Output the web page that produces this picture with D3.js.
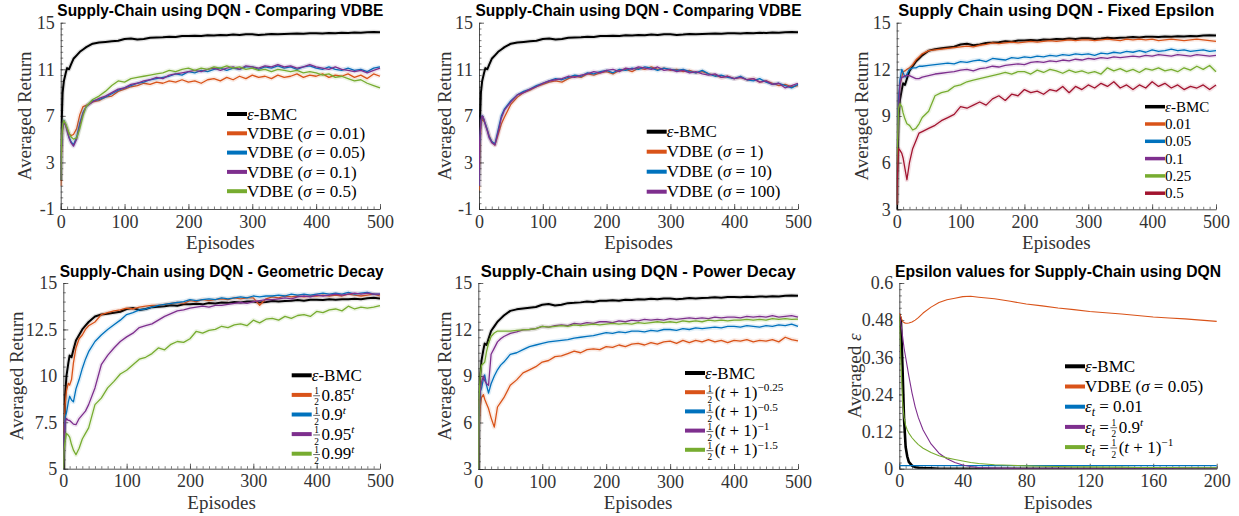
<!DOCTYPE html>
<html>
<head>
<meta charset="utf-8">
<script src="https://cdn.jsdelivr.net/npm/d3@7"></script>
<style>
  body { margin: 0; background: #fff; }
  svg text { font-family: "Liberation Serif", "Times New Roman", serif; }
  .title { font-family: "Liberation Sans", Arial, sans-serif; font-weight: bold; font-size: 16.5px; fill: #000; }
</style>
</head>
<body>
<svg id="chart" width="1239" height="516"></svg>
<script>
// ---- data -------------------------------------------------------------
const episodes = [0,1,3,5,8,10,13,16,20,25,30,35,40,50,60,70, ...d3.range(80, 501, 10)]
const epsilonEpisodes = [0,1,2,3,4,5,6,8,10,12,15,20,25,30,35,40,45,50,60,70,80,90,100,110,120,130,140,150,160,170,180,190,200]

const returnTicksA = [-1,3,7,11,15]
const returnTicksB = [3,6,9,12,15]
const returnTicksC = [5,7.5,10,12.5,15]
const episodeTicks = [0,100,200,300,400,500]
const epsilonTicks = [0,0.12,0.24,0.36,0.48,0.6]
const epsilonEpisodeTicks = [0,40,80,120,160,200]

// e-BMC (same run shown in every return panel)
const bmcReturn = [1.4,5.5,9.0,10.0,10.7,11.1,11.0,11.4,11.9,12.2,12.5,12.7,12.9,13.2,13.3,13.35,
  13.4,13.45,13.6,13.65,13.55,13.6,13.7,13.72,13.75,13.8,13.78,13.85,13.85,13.88,13.85,13.92,13.9,13.95,13.93,13.98,13.95,14.0,14.0,13.95,13.98,14.03,14.0,14.03,14.05,14.08,14.05,14.1,14.1,14.08,14.12,14.1,14.13,14.12,14.15,14.13,14.18,14.2,14.17]

// panel 1 : VDBE sigma 0.01 / 0.05 / 0.1 / 0.5
const vdbeS001 = [1.0,3.5,5.8,6.5,6.2,5.9,5.5,5.3,5.4,5.9,7.1,7.8,7.9,8.2,8.3,8.6,
  8.7,9.1,9.3,9.5,9.6,9.8,9.7,9.9,9.8,10.0,9.9,10.1,9.9,10.0,9.8,10.1,10.2,10.0,10.3,10.1,10.4,10.2,10.5,10.3,10.4,10.2,10.5,10.3,10.4,10.6,10.3,10.5,10.4,10.6,10.3,10.5,10.4,10.6,10.3,10.5,10.2,10.6,10.4]
const vdbeS005 = [1.5,4.0,6.0,6.6,6.2,5.8,5.2,4.8,4.5,5.2,6.4,7.3,7.8,8.3,8.4,8.6,
  8.9,9.2,9.4,9.6,9.8,9.9,10.1,10.2,10.3,10.4,10.6,10.5,10.8,10.7,10.9,10.8,11.0,11.1,10.9,11.1,11.0,11.2,11.2,11.0,11.2,11.1,11.3,11.1,11.2,11.0,11.2,11.3,11.1,11.0,11.2,11.0,10.9,11.1,10.9,11.0,10.8,11.1,11.2]
const vdbeS01 = [1.5,4.2,6.1,6.5,6.1,5.7,5.1,4.7,4.4,5.0,6.2,7.2,7.8,8.2,8.5,8.7,
  9.0,9.3,9.4,9.7,9.8,10.0,10.1,10.3,10.2,10.5,10.6,10.7,10.8,10.9,10.8,11.0,11.1,10.9,11.1,11.2,11.0,11.3,11.2,11.1,11.3,11.2,11.4,11.2,11.3,11.1,11.2,11.4,11.2,11.1,11.0,11.2,11.0,10.9,10.8,10.9,10.7,10.9,11.1]
const vdbeS05 = [1.5,4.5,6.2,6.6,6.3,6.0,5.5,5.2,5.0,5.1,5.9,7.0,7.8,8.4,8.7,9.1,
  9.6,10.0,9.9,10.2,10.3,10.4,10.5,10.6,10.7,10.9,10.8,11.0,11.1,10.9,11.1,11.0,11.2,11.1,11.3,11.1,11.2,11.0,11.1,10.9,11.0,10.8,11.0,10.9,10.8,10.9,10.7,10.8,10.7,10.5,10.6,10.3,10.4,10.2,10.0,10.1,9.8,9.6,9.4]

// panel 2 : VDBE sigma 1 / 10 / 100
const vdbeS1 = [0.6,3.5,6.0,6.8,6.5,6.3,5.8,5.3,4.8,4.5,5.4,6.3,6.9,8.0,8.6,9.0,
  9.2,9.5,9.7,9.9,10.0,9.9,10.2,10.4,10.3,10.6,10.5,10.7,10.8,10.6,10.9,11.0,10.8,11.1,11.0,11.2,11.0,11.1,10.9,11.0,10.8,10.9,10.7,10.8,10.6,10.5,10.3,10.4,10.2,10.3,10.1,10.2,9.9,10.0,9.8,9.6,9.7,9.5,9.6]
const vdbeS10 = [1.0,4.5,6.5,7.0,6.6,6.3,5.8,5.2,4.8,4.6,5.8,7.0,7.6,8.3,8.8,9.1,
  9.3,9.6,9.8,10.0,10.2,10.1,10.3,10.5,10.4,10.7,10.6,10.8,10.9,10.7,11.0,10.9,11.1,11.0,11.2,11.1,10.9,11.1,11.0,10.9,11.0,10.8,10.7,10.9,10.6,10.4,10.5,10.3,10.2,10.4,10.1,10.0,10.2,9.9,9.7,9.8,9.6,9.4,9.7]
const vdbeS100 = [1.0,4.8,6.6,7.0,6.7,6.2,5.7,5.1,4.7,4.5,5.6,6.8,7.5,8.2,8.8,9.0,
  9.3,9.5,9.8,10.0,10.1,10.2,10.4,10.3,10.5,10.6,10.8,10.7,10.9,11.0,10.8,11.1,11.0,11.2,11.1,11.0,11.2,10.9,11.0,10.8,10.9,10.7,10.8,10.6,10.5,10.6,10.3,10.4,10.2,10.3,10.1,10.2,9.9,10.0,9.7,9.8,9.4,9.6,9.8]

// panel 3 : fixed epsilon 0.01 / 0.05 / 0.1 / 0.25 / 0.5
const fixedE001 = [3.5,7.0,10.0,11.0,11.5,11.85,11.9,12.0,12.1,12.3,12.6,12.8,13.0,13.2,13.25,13.3,
  13.35,13.4,13.45,13.5,13.45,13.55,13.6,13.7,13.65,13.7,13.75,13.7,13.75,13.8,13.75,13.8,13.85,13.8,13.85,13.9,13.85,13.9,13.9,13.85,13.9,13.95,13.9,13.85,13.95,13.9,13.95,13.9,13.95,13.85,13.9,13.95,13.9,13.85,13.9,13.95,13.9,13.85,13.8]
const fixedE005 = [3.5,7.5,10.2,11.3,12.0,11.8,11.5,11.7,12.0,12.1,12.1,12.2,12.2,12.25,12.3,12.35,
  12.4,12.35,12.5,12.45,12.55,12.6,12.5,12.7,12.65,12.6,12.75,12.7,12.8,12.75,12.85,12.8,12.9,12.85,12.95,12.9,13.0,12.95,13.0,12.9,13.05,13.0,13.1,13.05,13.15,13.1,13.2,13.1,13.25,13.15,13.2,13.3,13.2,13.25,13.15,13.2,13.25,13.15,13.2]
const fixedE01 = [3.3,7.0,9.5,11.0,11.5,11.5,11.6,11.6,11.6,11.5,11.4,11.4,11.5,11.6,11.7,11.75,
  11.8,11.85,11.95,12.0,11.9,12.05,12.1,12.2,12.15,12.25,12.3,12.35,12.3,12.45,12.5,12.45,12.55,12.5,12.6,12.55,12.65,12.6,12.7,12.65,12.75,12.7,12.8,12.75,12.8,12.85,12.8,12.9,12.85,12.95,12.9,12.85,12.95,12.9,12.85,12.95,12.9,12.85,12.9]
const fixedE025 = [3.3,7.0,9.5,9.8,9.6,9.2,8.8,8.5,8.4,8.1,8.2,8.5,8.9,9.3,10.3,10.5,
  10.6,10.9,11.0,11.2,11.3,11.4,11.5,11.6,11.7,11.8,11.7,11.85,11.85,11.7,11.95,11.8,12.0,11.9,11.75,11.95,11.8,11.9,11.75,11.85,11.7,12.1,11.9,12.05,11.85,12.0,11.8,12.05,11.95,12.1,11.9,12.0,11.85,12.1,11.95,12.2,12.0,12.25,11.85]
const fixedE05 = [3.3,5.0,6.9,6.8,6.6,6.3,5.6,4.9,6.0,6.9,7.4,7.9,8.0,8.2,8.4,8.7,
  8.9,9.1,9.6,9.5,9.7,9.9,9.7,10.1,10.3,10.0,10.4,10.3,10.7,10.5,10.6,10.4,10.7,10.6,10.9,10.5,10.9,10.7,11.0,10.8,11.1,10.9,11.2,10.8,11.0,10.7,11.0,10.8,11.2,10.9,11.1,10.8,11.0,10.7,10.9,10.8,11.0,10.7,11.0]

// panel 4 : geometric decay 0.85 / 0.9 / 0.95 / 0.99
const geoD085 = [5.0,7.0,8.5,9.2,9.6,9.5,9.8,10.7,11.5,12.0,12.2,12.5,12.7,12.9,13.3,13.4,
  13.5,13.55,13.65,13.6,13.7,13.75,13.8,13.8,13.85,13.9,13.95,13.9,14.05,14.0,14.1,14.05,14.1,14.15,14.1,14.2,14.15,14.2,14.2,13.8,14.15,14.25,14.2,14.3,14.25,14.3,14.25,14.3,14.3,14.35,14.3,14.35,14.3,14.4,14.35,14.3,14.35,14.4,14.3]
const geoD09 = [5.0,6.5,7.8,8.0,8.6,8.9,8.7,8.6,9.3,9.8,10.4,10.9,11.3,11.85,12.2,12.5,
  12.75,13.0,13.3,13.4,13.55,13.6,13.7,13.8,13.85,13.9,13.95,14.0,14.1,14.05,14.1,14.15,14.1,14.2,14.15,14.2,14.25,14.2,14.3,14.25,14.3,14.3,14.35,14.3,14.4,14.35,14.4,14.35,14.4,14.45,14.4,14.45,14.4,14.5,14.4,14.45,14.5,14.4,14.4]
const geoD095 = [5.0,6.5,7.5,7.7,7.6,7.6,7.5,7.4,7.37,7.7,7.9,8.1,8.45,9.35,10.6,11.1,
  11.5,11.85,12.1,12.3,12.6,12.7,12.8,13.0,13.2,13.35,13.5,13.55,13.65,13.7,13.75,13.7,13.8,13.8,13.85,13.9,13.95,13.9,14.0,14.05,14.1,14.1,14.15,14.2,14.15,14.25,14.3,14.25,14.35,14.3,14.35,14.4,14.35,14.4,14.45,14.4,14.45,14.4,14.4]
const geoD099 = [5.0,6.0,6.5,6.9,6.8,6.7,6.3,6.0,5.75,6.1,6.6,6.9,7.2,8.45,8.8,9.35,
  9.7,10.1,10.3,10.6,10.9,11.0,11.2,11.5,11.4,11.7,11.85,11.8,12.0,12.4,12.3,12.45,12.5,12.67,12.6,12.75,12.8,12.7,13.0,12.85,13.05,13.1,13.0,13.2,13.1,13.25,13.3,13.2,13.47,13.4,13.55,13.6,13.5,13.75,13.6,13.7,13.65,13.7,13.78]

// panel 5 : power decay -0.25 / -0.5 / -1 / -1.5
const powD025 = [3.0,5.5,7.0,7.6,7.8,7.5,7.2,6.9,6.3,5.7,7.0,7.3,7.6,8.4,8.75,9.2,
  9.4,9.6,9.9,10.0,10.25,10.3,10.45,10.6,10.5,10.7,10.75,10.7,10.9,10.85,11.0,10.9,11.05,11.1,11.0,11.15,11.05,11.2,11.25,11.1,11.3,11.15,11.3,11.2,11.35,11.2,11.3,11.15,11.3,11.25,11.35,11.2,11.3,11.25,11.35,11.2,11.5,11.35,11.27]
const powD05 = [3.0,6.5,8.0,8.2,8.8,9.07,8.4,7.9,8.5,9.0,9.4,9.7,9.9,10.4,10.5,10.7,
  10.9,11.0,11.1,11.2,11.25,11.3,11.35,11.45,11.5,11.55,11.6,11.7,11.8,11.75,11.85,11.8,11.9,11.9,11.85,11.95,11.9,12.0,12.0,11.95,12.05,12.0,12.1,12.05,12.1,12.15,12.1,12.2,12.2,12.15,12.25,12.2,12.15,12.25,12.2,12.3,12.25,12.35,12.2]
const powD1 = [3.0,7.0,8.0,8.6,9.0,8.7,8.5,8.4,10.4,10.8,11.2,11.4,11.55,11.75,11.85,11.98,
  12.0,12.05,12.2,12.15,12.25,12.3,12.25,12.4,12.35,12.45,12.4,12.5,12.5,12.45,12.55,12.5,12.6,12.55,12.65,12.6,12.65,12.6,12.7,12.65,12.7,12.75,12.7,12.75,12.7,12.8,12.75,12.8,12.8,12.75,12.85,12.8,12.85,12.8,12.9,12.8,12.85,12.9,12.8]
const powD15 = [3.0,7.5,9.0,9.7,9.8,9.9,10.6,11.1,11.55,11.77,11.9,11.9,11.9,11.9,11.95,11.98,
  12.0,12.05,12.2,12.15,12.2,12.25,12.2,12.3,12.25,12.3,12.35,12.3,12.35,12.4,12.35,12.4,12.35,12.45,12.4,12.45,12.5,12.45,12.5,12.45,12.55,12.5,12.55,12.5,12.6,12.55,12.6,12.55,12.6,12.6,12.65,12.6,12.65,12.6,12.7,12.65,12.7,12.65,12.67]

// panel 6 : averaged epsilon
const bmcEpsilon = [0.5,0.48,0.33,0.16,0.07,0.04,0.022,0.01,0.005,0.003,0.002,0.001,0,0,0,0,0,0,0,0,0,0,0,0,0,0,0,0,0,0,0,0,0]
const vdbeEpsilon = [0.503,0.49,0.476,0.472,0.47,0.47,0.471,0.474,0.48,0.488,0.503,0.522,0.537,0.546,0.551,0.556,0.557,0.554,0.549,0.541,0.532,0.526,0.519,0.514,0.508,0.504,0.5,0.495,0.49,0.487,0.484,0.48,0.476]
const fixedEpsilon = [0.01,0.01,0.01,0.01,0.01,0.01,0.01,0.01,0.01,0.01,0.01,0.01,0.01,0.01,0.01,0.01,0.01,0.01,0.01,0.01,0.01,0.01,0.01,0.01,0.01,0.01,0.01,0.01,0.01,0.01,0.01,0.01,0.01]
const geoEpsilon = [0.5,0.47,0.43,0.39,0.36,0.33,0.3,0.245,0.2,0.165,0.125,0.08,0.05,0.032,0.02,0.012,0.007,0.004,0.002,0.001,0,0,0,0,0,0,0,0,0,0,0,0,0]
const powEpsilon = [0.5,0.35,0.22,0.165,0.14,0.125,0.115,0.1,0.088,0.078,0.066,0.052,0.042,0.035,0.03,0.025,0.02,0.017,0.013,0.011,0.009,0.008,0.007,0.006,0.006,0.005,0.005,0.004,0.004,0.004,0.003,0.003,0.003]

// ---- colours ------------------------------------------------------------
const black = "#000000", orange = "#D95319", blue = "#0072BD", purple = "#7E2F8E", green = "#77AC30", crimson = "#A2142F"

// ---- layout -------------------------------------------------------------
const panels = [
  { title: "Supply-Chain using DQN - Comparing VDBE", titleW: 326, left: 60.7, right: 380, top: 22.7, bottom: 209,
    xs: episodes, xDomain: [0, 500], xTicks: episodeTicks, xMinor: 10,
    yDomain: [-1, 15], yTicks: returnTicksA, yMinor: 0.5, yLabel: "Averaged Return", yLabelX: 25,
    series: [[bmcReturn, black], [vdbeS001, orange], [vdbeS005, blue], [vdbeS01, purple], [vdbeS05, green]],
    labels: ["{i:ε}-BMC", "VDBE ({i:σ} = 0.01)", "VDBE ({i:σ} = 0.05)", "VDBE ({i:σ} = 0.1)", "VDBE ({i:σ} = 0.5)"],
    legend: { x: 227, y: 114, dy: 19.3, size: 17 } },
  { title: "Supply-Chain using DQN - Comparing VDBE", titleW: 326, left: 479, right: 798, top: 22.7, bottom: 209,
    xs: episodes, xDomain: [0, 500], xTicks: episodeTicks, xMinor: 10,
    yDomain: [-1, 15], yTicks: returnTicksA, yMinor: 0.5, yLabel: "Averaged Return", yLabelX: 445,
    series: [[bmcReturn, black], [vdbeS1, orange], [vdbeS10, blue], [vdbeS100, purple]],
    labels: ["{i:ε}-BMC", "VDBE ({i:σ} = 1)", "VDBE ({i:σ} = 10)", "VDBE ({i:σ} = 100)"],
    legend: { x: 646.7, y: 131.7, dy: 20, size: 17 } },
  { title: "Supply Chain using DQN - Fixed Epsilon", titleW: 316, left: 896.7, right: 1216, top: 22.7, bottom: 209.3,
    xs: episodes, xDomain: [0, 500], xTicks: episodeTicks, xMinor: 10,
    yDomain: [3, 15], yTicks: returnTicksB, yMinor: 0.5, yLabel: "Averaged Return", yLabelX: 861.7,
    series: [[bmcReturn, black], [fixedE001, orange], [fixedE005, blue], [fixedE01, purple], [fixedE025, green], [fixedE05, crimson]],
    labels: ["{i:ε}-BMC", "0.01", "0.05", "0.1", "0.25", "0.5"],
    legend: { x: 1145, y: 106.7, dy: 17.3, size: 15 } },
  { title: "Supply-Chain using DQN - Geometric Decay", titleW: 324, left: 63.3, right: 380, top: 283, bottom: 468.7,
    xs: episodes, xDomain: [0, 500], xTicks: episodeTicks, xMinor: 10,
    yDomain: [5, 15], yTicks: returnTicksC, yMinor: 0.5, yLabel: "Averaged Return", yLabelX: 16.5,
    series: [[bmcReturn, black], [geoD085, orange], [geoD09, blue], [geoD095, purple], [geoD099, green]],
    labels: ["{i:ε}-BMC", "{frac}0.85{isup:t}", "{frac}0.9{isup:t}", "{frac}0.95{isup:t}", "{frac}0.99{isup:t}"],
    legend: { x: 291.7, y: 375.3, dy: 19.6, size: 17 } },
  { title: "Supply-Chain using DQN - Power Decay", titleW: 315, left: 478.3, right: 798, top: 283, bottom: 469,
    xs: episodes, xDomain: [0, 500], xTicks: episodeTicks, xMinor: 10,
    yDomain: [3, 15], yTicks: returnTicksB, yMinor: 0.5, yLabel: "Averaged Return", yLabelX: 445,
    series: [[bmcReturn, black], [powD025, orange], [powD05, blue], [powD1, purple], [powD15, green]],
    labels: ["{i:ε}-BMC", "{frac}({i:t} + 1){sup:−0.25}", "{frac}({i:t} + 1){sup:−0.5}", "{frac}({i:t} + 1){sup:−1}", "{frac}({i:t} + 1){sup:−1.5}"],
    legend: { x: 685, y: 373, dy: 19.2, size: 17 } },
  { title: "Epsilon values for Supply-Chain using DQN", titleW: 326, left: 899.3, right: 1216.7, top: 283, bottom: 468.7,
    xs: epsilonEpisodes, xDomain: [0, 200], xTicks: epsilonEpisodeTicks, xMinor: 4,
    yDomain: [0, 0.6], yTicks: epsilonTicks, yMinor: 0.02, yLabel: "Averaged {i:ε}", yLabelX: 855,
    series: [[bmcEpsilon, black], [vdbeEpsilon, orange], [fixedEpsilon, blue], [geoEpsilon, purple], [powEpsilon, green]],
    labels: ["{i:ε}-BMC", "VDBE ({i:σ} = 0.05)", "{i:ε}{isub:t} = 0.01", "{i:ε}{isub:t} = {frac}0.9{isup:t}", "{i:ε}{isub:t} = {frac}({i:t} + 1){sup:−1}"],
    legend: { x: 1065, y: 366.3, dy: 20.2, size: 17 }, thin: true }
]

const svg = d3.select("#chart")
const axisColor = "#262626"

// text with small LaTeX-like markup: {i:..} italic, {sup:..}/{isup:..}, {isub:..}, {frac} = 1/2
function richText(parent, str, x, y, size, anchor) {
  const t = parent.append("text").attr("x", x).attr("y", y)
    .style("font-size", size + "px").attr("fill", "#000")
  const re = /\{(\w+)(?::([^}]*))?\}|([^{]+)/g
  let m, offset = 0, nextX = null
  while ((m = re.exec(str)) !== null) {
    if (m[1] === "frac") {
      const len = t.node().getComputedTextLength()
      const fs = size * 0.55
      const fw = size * 0.46
      const fx = x + len + 1
      const up = -size * 0.37, down = size * 0.29
      t.append("tspan").attr("x", fx + (fw - fs * 0.5) / 2).attr("dy", up - offset)
        .style("font-size", fs + "px").text("1")
      t.append("tspan").attr("x", fx + (fw - fs * 0.5) / 2).attr("dy", down - up)
        .style("font-size", fs + "px").text("2")
      offset = down
      parent.append("line").attr("x1", fx + 0.5).attr("x2", fx + fw - 0.5)
        .attr("y1", y - size * 0.28).attr("y2", y - size * 0.28)
        .attr("stroke", "#000").attr("stroke-width", 0.6)
      nextX = fx + fw + 1
      continue
    }
    const kind = m[1] || "plain"
    const ts = t.append("tspan").text(kind === "plain" ? m[3] : m[2])
    let target = 0
    if (kind === "i" || kind === "isup" || kind === "isub") ts.style("font-style", "italic")
    if (kind === "sup" || kind === "isup") { target = -size * 0.38; ts.style("font-size", size * 0.66 + "px") }
    if (kind === "isub") { target = size * 0.2; ts.style("font-size", size * 0.7 + "px") }
    if (target - offset !== 0) ts.attr("dy", target - offset)
    offset = target
    if (nextX !== null) { ts.attr("x", nextX); nextX = null }
  }
  if (anchor) t.attr("text-anchor", anchor)
  return t
}

function styleAxis(g) {
  g.select(".domain").attr("stroke", axisColor).attr("stroke-width", 0.8)
  g.selectAll(".tick line").attr("stroke", axisColor).attr("stroke-width", 0.7)
  g.selectAll(".tick text").attr("fill", "#333").style("font-family", '"Liberation Serif", serif').style("font-size", "18px")
}

panels.forEach((p, i) => {
  const x = d3.scaleLinear().domain(p.xDomain).range([p.left, p.right])
  const y = d3.scaleLinear().domain(p.yDomain).range([p.bottom, p.top])
  const g = svg.append("g")

  svg.append("clipPath").attr("id", "clip" + i)
    .append("rect").attr("x", p.left).attr("y", p.top - 2)
    .attr("width", p.right - p.left + 2).attr("height", p.bottom - p.top + 2)

  // minor ticks
  const xMinor = d3.range(p.xDomain[0], p.xDomain[1] + 1e-9, p.xMinor)
  const yMinor = d3.range(p.yDomain[0], p.yDomain[1] + 1e-9, p.yMinor)
  g.append("g").attr("transform", `translate(0,${p.bottom})`)
    .call(d3.axisBottom(x).tickValues(xMinor).tickSize(-2.5).tickFormat(""))
    .call(s => { s.select(".domain").remove(); s.selectAll("line").attr("stroke", axisColor).attr("stroke-width", 0.6) })
  g.append("g").attr("transform", `translate(${p.left},0)`)
    .call(d3.axisLeft(y).tickValues(yMinor).tickSize(-2.5).tickFormat(""))
    .call(s => { s.select(".domain").remove(); s.selectAll("line").attr("stroke", axisColor).attr("stroke-width", 0.6) })

  // major axes
  g.append("g").attr("transform", `translate(0,${p.bottom})`)
    .call(d3.axisBottom(x).tickValues(p.xTicks).tickSizeInner(-5).tickSizeOuter(0).tickPadding(6))
    .call(styleAxis)
  g.append("g").attr("transform", `translate(${p.left},0)`)
    .call(d3.axisLeft(y).tickValues(p.yTicks).tickSizeInner(-5).tickSizeOuter(0).tickPadding(6).tickFormat(d => String(d)))
    .call(styleAxis)

  // lines
  const line = d3.line().x(d => x(d[0])).y(d => y(d[1]))
  const lines = g.append("g").attr("clip-path", `url(#clip${i})`)
  p.series.forEach(([vals, color], k) => {
    const pts = vals.map((v, j) => [p.xs[j], v]).filter(d => d[0] !== undefined)
    const isBmc = k === 0
    if (!p.thin) {
      lines.append("path").datum(pts).attr("d", line).attr("fill", "none")
        .attr("stroke", color).attr("stroke-opacity", 0.12).attr("stroke-width", 4.5)
        .attr("stroke-linejoin", "round")
    }
    lines.append("path").datum(pts).attr("d", line).attr("fill", "none")
      .attr("stroke", color).attr("stroke-linejoin", "round")
      .attr("stroke-width", isBmc ? (p.thin ? 2.6 : 2) : (p.thin ? 1.1 : 1.3))
  })

  // title
  svg.append("text").attr("class", "title").attr("text-anchor", "middle")
    .attr("x", (p.left + p.right) / 2).attr("y", p.top - 6.5)
    .attr("textLength", p.titleW).attr("lengthAdjust", "spacingAndGlyphs")
    .text(p.title)

  // axis labels
  svg.append("text").attr("text-anchor", "middle")
    .attr("x", (p.left + p.right) / 2).attr("y", p.bottom + 40)
    .style("font-size", "19px").attr("fill", "#333").text("Episodes")
  const yl = svg.append("g").attr("transform", `translate(${p.yLabelX + 6},${(p.top + p.bottom) / 2}) rotate(-90)`)
  richText(yl, p.yLabel, 0, 0, 19, "middle").attr("fill", "#333")

  // legend
  const lg = svg.append("g")
  p.labels.forEach((lab, k) => {
    const ly = p.legend.y + k * p.legend.dy
    lg.append("line").attr("x1", p.legend.x).attr("x2", p.legend.x + 20)
      .attr("y1", ly).attr("y2", ly)
      .attr("stroke", p.series[k][1]).attr("stroke-width", p.legend.size < 16 ? 3.5 : 4)
    richText(lg, lab, p.legend.x + 20, ly + p.legend.size * 0.33, p.legend.size)
  })
})
</script>
</body>
</html>
